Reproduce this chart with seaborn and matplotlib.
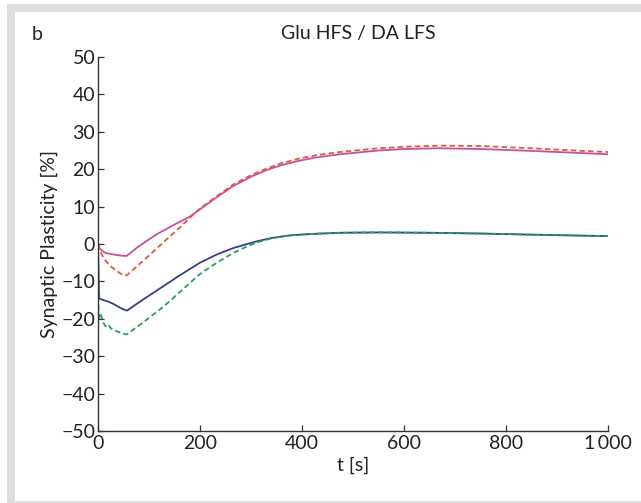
import numpy as np
import pandas as pd
import matplotlib
matplotlib.use("Agg")
import matplotlib.pyplot as plt
from matplotlib.patches import Rectangle
import seaborn as sns

# ---- data ----
t_magenta = [0, 3, 8, 15, 25, 35, 45, 56, 80, 115, 150, 180, 200, 233, 265, 300, 331, 360, 396, 430, 475, 550, 600, 670, 750, 850, 950, 1000]
v_magenta = [0, -1.2, -1.8, -2.4, -2.7, -2.9, -3.1, -3.2, -0.6, 2.6, 5.2, 7.3, 9.3, 12.5, 15.5, 18.0, 19.8, 21.1, 22.3, 23.2, 24.0, 25.0, 25.4, 25.6, 25.4, 24.9, 24.3, 24.0]

t_red = [0, 3, 8, 15, 25, 35, 45, 56, 90, 128, 161, 180, 200, 233, 265, 300, 331, 360, 396, 430, 475, 550, 600, 670, 750, 850, 950, 1000]
v_red = [0, -1.5, -3.0, -4.5, -6.0, -7.0, -8.0, -8.4, -4.3, 0.4, 4.5, 7.0, 9.5, 12.8, 15.9, 18.4, 20.2, 21.6, 22.9, 23.8, 24.6, 25.6, 26.0, 26.3, 26.2, 25.6, 24.9, 24.6]

t_blue = [0, 2, 10, 20, 30, 40, 50, 57, 90, 128, 160, 200, 233, 265, 290, 311, 340, 376, 420, 475, 550, 650, 750, 850, 1000]
v_blue = [0, -14.5, -15.0, -15.4, -16.0, -16.8, -17.5, -17.8, -14.7, -11.3, -8.4, -5.0, -2.8, -1.1, -0.1, 0.7, 1.6, 2.3, 2.7, 3.0, 3.1, 3.0, 2.8, 2.5, 2.1]

t_green = [0, 1, 3, 6, 10, 15, 20, 25, 30, 40, 50, 56, 90, 128, 160, 200, 233, 265, 290, 311, 340, 376, 420, 475, 550, 650, 750, 850, 1000]
v_green = [0, -18.0, -20.0, -19.0, -21.0, -22.0, -21.5, -22.5, -23.0, -23.5, -24.0, -24.2, -20.8, -16.8, -12.9, -8.0, -5.0, -2.4, -0.8, 0.4, 1.5, 2.3, 2.7, 3.0, 3.1, 3.0, 2.8, 2.5, 2.1]

x_ticks = [0, 200, 400, 600, 800, 1000]
x_tick_labels = ["0", "200", "400", "600", "800", "1\u2009000"]
y_ticks = [-50, -40, -30, -20, -10, 0, 10, 20, 30, 40, 50]

title = "Glu HFS / DA LFS"
panel_label = "b"
x_label = "t [s]"
y_label = "Synaptic Plasticity [%]"

# ---- style ----
sns.set_style("ticks")
plt.rcParams["font.family"] = ["Lato", "DejaVu Sans"]
plt.rcParams["xtick.direction"] = "in"
plt.rcParams["ytick.direction"] = "in"

W, H = 641, 503
fig = plt.figure(figsize=(W / 100, H / 100), dpi=100)
fig.patch.set_facecolor("white")
# gray frame
fig.patches.append(Rectangle((7 / W, 0), 1, 1 - 4 / H, transform=fig.transFigure,
                             facecolor="#dcddde", edgecolor="none", zorder=-10))
fig.patches.append(Rectangle((15 / W, 2 / H), 1, 1 - 12 / H - 2 / H, transform=fig.transFigure,
                             facecolor="white", edgecolor="none", zorder=-9))

ax = fig.add_axes([98 / W, 1 - 431 / H, (608 - 98) / W, (431 - 57) / H])
ax.set_facecolor("none")

series = [
    (t_magenta, v_magenta, "#c4519c", "-"),
    (t_red, v_red, "#e8553a", (0, (3, 1.8))),
    (t_blue, v_blue, "#373d93", "-"),
    (t_green, v_green, "#1fa35c", (0, (3, 1.8))),
]
for t, v, c, ls in series:
    df = pd.DataFrame({"t": t, "v": v})
    sns.lineplot(data=df, x="t", y="v", ax=ax, color=c, linewidth=1.3,
                 linestyle=ls, estimator=None, sort=False)

ax.set_xlim(0, 1000)
ax.set_ylim(-50, 50)
ax.set_xticks(x_ticks)
ax.set_xticklabels(x_tick_labels)
ax.set_yticks(y_ticks)
sns.despine(ax=ax)
for s in ["left", "bottom"]:
    ax.spines[s].set_color("#333333")
    ax.spines[s].set_linewidth(1.0)
ax.tick_params(axis="both", which="major", length=4, width=0.9, color="#333333",
               labelsize=14, labelcolor="#222222", pad=2)
ax.tick_params(axis="x", pad=3)
ax.set_xlabel(x_label, fontsize=14, color="#222222", labelpad=3)
ax.set_ylabel(y_label, fontsize=14, color="#222222", labelpad=2)

fig.text(358 / W, 1 - 34 / H, title, ha="center", va="center", fontsize=14, color="#222222")
fig.text(37 / W, 1 - 34 / H, panel_label, ha="center", va="center", fontsize=14, color="#222222")

fig.savefig("out.png", dpi=100, facecolor=fig.get_facecolor())
